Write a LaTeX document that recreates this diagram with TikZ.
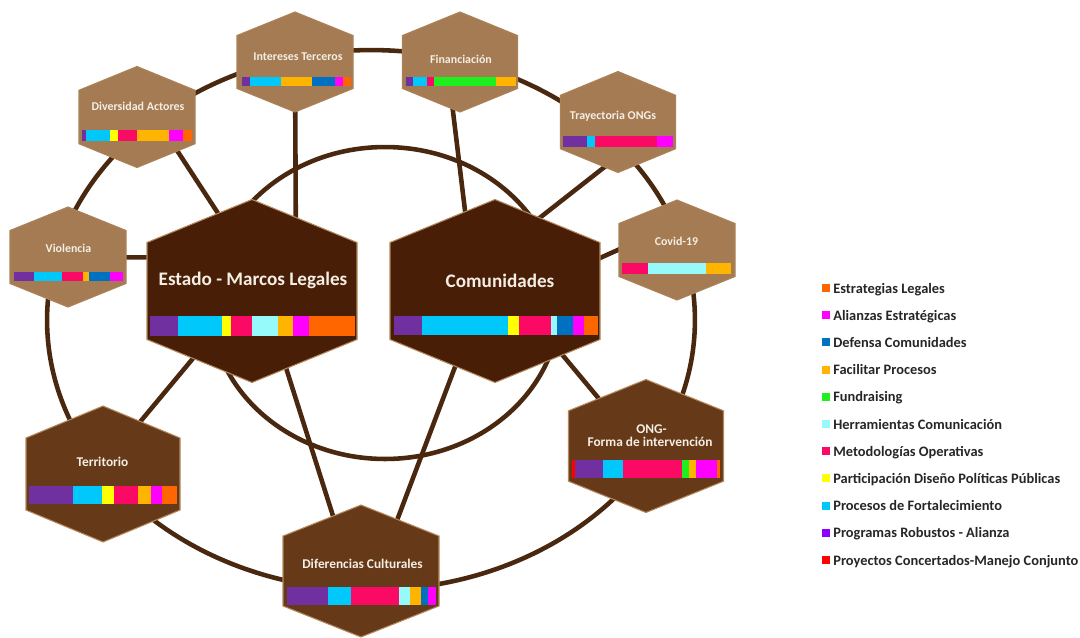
\documentclass[tikz,border=0pt]{standalone}
\usepackage{fontspec}
\setmainfont{Carlito}
\usepackage{tikz}
\usetikzlibrary{calc,backgrounds}

\definecolor{linkbrown}{RGB}{74,40,16}
\definecolor{tanhex}{RGB}{164,123,83}
\definecolor{midhex}{RGB}{102,57,24}
\definecolor{darkhex}{RGB}{72,30,6}
\definecolor{hexedge}{RGB}{181,137,94}
\definecolor{labelwhite}{RGB}{245,238,228}
\definecolor{legendtext}{RGB}{38,38,38}
% category colours
\definecolor{cPurple}{RGB}{112,48,160}
\definecolor{cPurpleKey}{RGB}{140,0,255}
\definecolor{cCyan}{RGB}{0,200,250}
\definecolor{cPink}{RGB}{250,10,100}
\definecolor{cAmber}{RGB}{255,180,0}
\definecolor{cLight}{RGB}{150,250,250}
\definecolor{cOrange}{RGB}{255,102,0}
\definecolor{cBlue}{RGB}{0,112,192}
\definecolor{cMagenta}{RGB}{255,0,255}
\definecolor{cYellow}{RGB}{255,255,0}
\definecolor{cGreen}{RGB}{30,240,30}
\definecolor{cRed}{RGB}{255,0,0}

\tikzstyle{link} = [draw=linkbrown, line width=2.6pt]
\tikzstyle{hexcore} = [inner sep=0pt, minimum size=0pt]
\tikzstyle{smallhex} = [fill=tanhex, draw=hexedge!50!tanhex, line width=0.6pt]
\tikzstyle{midhexa} = [fill=midhex, draw=hexedge, line width=0.6pt]
\tikzstyle{bighex} = [fill=darkhex, draw=hexedge, line width=0.6pt]
\tikzstyle{biglabel} = [anchor=base, inner sep=0pt, text=labelwhite, font=\fontsize{10.9pt}{12pt}\selectfont\bfseries]
\tikzstyle{midlabel} = [anchor=base, inner sep=0pt, text=labelwhite, font=\fontsize{7.6pt}{9pt}\selectfont\bfseries]
\tikzstyle{smalllabel} = [anchor=base, inner sep=0pt, text=labelwhite, font=\fontsize{6.8pt}{8pt}\selectfont\bfseries]
\tikzstyle{keylabel} = [anchor=base west, inner sep=0pt, text=legendtext, font=\fontsize{8.2pt}{10pt}\selectfont\bfseries]

% #1 name, #2 x, #3 y, #4 half width, #5 half height, #6 style
\newcommand{\hexcell}[6]{%
  \node[hexcore] (#1) at (#2,#3) {};
  \filldraw[#6] ($(#1)+(0,-#5)$) -- ($(#1)+(#4,{-0.53*#5})$) -- ($(#1)+(#4,{0.53*#5})$)
    -- ($(#1)+(0,#5)$) -- ($(#1)+(-#4,{0.53*#5})$) -- ($(#1)+(-#4,{-0.53*#5})$) -- cycle;
}
% #1 top, #2 bottom, #3 colour/from/to list
\newcommand{\segbar}[3]{%
  \foreach \c/\a/\b in {#3} \fill[\c] (\a,#1) rectangle (\b,#2);
}

\begin{document}
\begin{tikzpicture}[x=0.02cm, y=-0.02cm]
    \useasboundingbox (0,0) rectangle (1080,637);

    % Outer ring hexagons
    \hexcell{inter}{295}{62}{58}{50}{smallhex}
    \hexcell{divers}{137}{117}{58}{50.5}{smallhex}
    \hexcell{viol}{68}{257}{58}{50}{smallhex}
    \hexcell{fin}{460}{62}{57.5}{50}{smallhex}
    \hexcell{tray}{618}{122}{57.5}{50.5}{smallhex}
    \hexcell{covid}{677}{250}{58}{50}{smallhex}
    \hexcell{terr}{103}{474}{77}{68}{midhexa}
    \hexcell{dif}{361}{571}{78}{66}{midhexa}
    \hexcell{ong}{646}{446}{77.5}{66.5}{midhexa}

    % Central hexagons
    \hexcell{estado}{252}{291}{105}{91.5}{bighex}
    \hexcell{comun}{495}{291}{105}{91.5}{bighex}

    % Rings and links
    \begin{pgfonlayer}{background}
        \draw[link] (371,320) ellipse [x radius=6.48cm, y radius=5.4cm];
        \draw[link] (385,303) ellipse [x radius=3.5cm, y radius=3.12cm];
        \draw[link] ($(divers)+(28,15)$) -- ($(estado)+(-12,-44)$);
        \draw[link] (inter) -- ($(estado)+(44,-30)$);
        \draw[link] (viol) -- ($(estado)+(0,-33)$);
        \draw[link] ($(terr)+(17,-28)$) -- ($(estado)+(-37,41)$);
        \draw[link] ($(estado)+(22,39)$) -- ($(dif)+(-14,-11)$);
        \draw[link] ($(fin)+(-13,0)$) -- ($(comun)+(-24,-31)$);
        \draw[link] ($(tray)+(12,25)$) -- ($(comun)+(5,-42)$);
        \draw[link] ($(covid)+(-37,-10)$) -- ($(comun)+(85,-24)$);
        \draw[link] ($(comun)+(-26,39)$) -- ($(dif)+(21,-11)$);
        \draw[link] ($(comun)+(55,49)$) -- ($(ong)+(-26,-22)$);
    \end{pgfonlayer}

    % Labels
    \node[biglabel] (estado-t) at (253,285) {Estado - Marcos Legales};
    \node[biglabel] (comun-t) at (500,287) {Comunidades};
    \node[smalllabel] (inter-t) at (298,60) {Intereses Terceros};
    \node[smalllabel] (divers-t) at (138,110) {Diversidad Actores};
    \node[smalllabel] (viol-t) at (68.5,252) {Violencia};
    \node[smalllabel] (fin-t) at (461,63) {Financiación};
    \node[smalllabel] (tray-t) at (613,119) {Trayectoria ONGs};
    \node[smalllabel] (covid-t) at (676.5,245) {Covid-19};
    \node[midlabel] (terr-t) at (102.5,466) {Territorio};
    \node[midlabel] (dif-t) at (362.5,568) {Diferencias Culturales};
    \node[midlabel] (ong-t1) at (651.5,433) {ONG-};
    \node[midlabel] (ong-t2) at (650,446) {Forma de intervención};

    % Bars
    \segbar{316}{336}{cPurple/150/178, cCyan/178/222, cYellow/222/231, cPink/231/252,
        cLight/252/278, cAmber/278/293, cMagenta/293/309, cOrange/309/355}
    \segbar{316}{335}{cPurple/394/422, cCyan/422/508, cYellow/508/519, cPink/519/551,
        cLight/551/557, cBlue/557/573, cMagenta/573/584, cOrange/584/598}
    \segbar{77}{86}{cPurple/242/250, cCyan/250/281, cAmber/281/312, cBlue/312/335,
        cMagenta/335/343, cOrange/343/351}
    \segbar{130}{141}{cPurple/82/86, cCyan/86/110, cYellow/110/118, cPink/118/137,
        cAmber/137/169, cMagenta/169/183, cOrange/183/192}
    \segbar{272}{281}{cPurple/14/34, cCyan/34/62, cPink/62/83, cAmber/83/89,
        cBlue/89/110, cMagenta/110/123}
    \segbar{77}{86}{cPurple/406/413, cCyan/413/427, cPink/427/434, cGreen/434/496,
        cAmber/496/516}
    \segbar{136}{147}{cPurple/563/587, cCyan/587/595, cPink/595/657, cMagenta/657/673}
    \segbar{263}{274}{cPink/622/648, cLight/648/706, cAmber/706/731}
    \segbar{486}{504}{cPurple/29/73, cCyan/73/102, cYellow/102/114, cPink/114/138,
        cAmber/138/151, cMagenta/151/162, cOrange/162/177}
    \segbar{587}{605}{cPurple/287/328, cCyan/328/351, cPink/351/399, cLight/399/410,
        cAmber/410/421, cBlue/421/428, cMagenta/428/436}
    \segbar{460}{478}{cRed/572/575, cPurple/575/603, cCyan/603/623, cPink/623/682,
        cGreen/682/689, cAmber/689/696, cMagenta/696/717, cOrange/717/720}

    % Legend
    \foreach \c/\t [count=\i] in {cOrange/Estrategias Legales, cMagenta/Alianzas Estratégicas,
        cBlue/Defensa Comunidades, cAmber/Facilitar Procesos, cGreen/Fundraising,
        cLight/Herramientas Comunicación, cPink/Metodologías Operativas,
        cYellow/Participación Diseño Políticas Públicas, cCyan/Procesos de Fortalecimiento,
        cPurpleKey/Programas Robustos - Alianza, cRed/Proyectos Concertados-Manejo Conjunto} {
        \fill[\c] (822,{284+27.2*(\i-1)}) rectangle ++(8,8);
        \node[keylabel] (key\i) at (833,{293+27.2*(\i-1)}) {\t};
    }
\end{tikzpicture}
\end{document}
